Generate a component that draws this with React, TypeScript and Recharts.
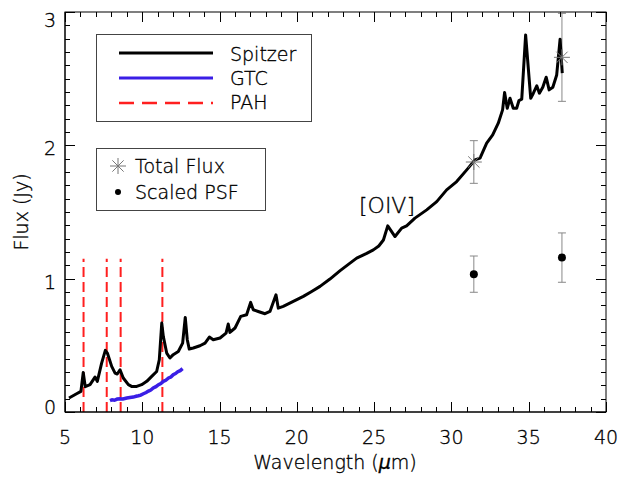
import React from 'react'
import { ComposedChart, Line, Scatter, ErrorBar, XAxis, YAxis, ReferenceLine } from 'recharts'

// Spitzer IRS spectrum (wavelength in micron, flux in Jy)
const spitzerWave = [
  5.26, 5.75, 6.03, 6.18, 6.31, 6.62, 6.94, 7.09, 7.37, 7.61, 7.74, 8.02, 8.24, 8.38, 8.56, 8.77,
  9.1, 9.31, 9.64, 9.96, 10.29, 10.61, 10.93, 11.1, 11.26, 11.36, 11.58, 11.79, 12.0, 12.33, 12.61,
  12.78, 12.91, 13.04, 13.3, 13.73, 14.06, 14.34, 14.59, 15.03, 15.42, 15.56, 15.67, 16.0, 16.37,
  16.75, 17.01, 17.18, 17.5, 17.94, 18.26, 18.65, 18.8, 19.12, 19.77, 20.42, 20.96, 21.5, 22.14,
  22.8, 23.44, 23.87, 24.52, 24.95, 25.3, 25.6, 25.88, 26.35, 26.78, 27.1, 27.64, 28.4, 29.05,
  29.69, 30.34, 30.99, 31.52, 31.85, 32.28, 32.67, 33.03, 33.31, 33.44, 33.61, 33.79, 34.0, 34.22,
  34.37, 34.55, 34.8, 35.13, 35.3, 35.52, 35.69, 35.91, 36.13, 36.32, 36.56, 36.81, 37.03, 37.17,
]
const spitzerFlux = [
  0.105, 0.137, 0.155, 0.297, 0.19, 0.205, 0.262, 0.23, 0.367, 0.462, 0.442, 0.342, 0.292, 0.285,
  0.317, 0.255, 0.205, 0.192, 0.192, 0.205, 0.23, 0.267, 0.304, 0.392, 0.667, 0.567, 0.442, 0.405,
  0.43, 0.454, 0.517, 0.709, 0.542, 0.472, 0.48, 0.497, 0.517, 0.562, 0.542, 0.555, 0.592, 0.66,
  0.597, 0.63, 0.717, 0.729, 0.822, 0.767, 0.754, 0.737, 0.754, 0.879, 0.779, 0.792, 0.829, 0.867,
  0.904, 0.942, 0.997, 1.06, 1.117, 1.154, 1.19, 1.216, 1.245, 1.29, 1.396, 1.316, 1.379, 1.396,
  1.454, 1.516, 1.578, 1.666, 1.728, 1.816, 1.891, 1.904, 2.016, 2.078, 2.166, 2.266, 2.396, 2.278,
  2.353, 2.278, 2.278, 2.336, 2.346, 2.828, 2.353, 2.391, 2.446, 2.391, 2.436, 2.511, 2.416, 2.436,
  2.528, 2.796, 2.541,
]

// GTC spectrum
const gtcWave = [
  7.91, 8.05, 8.2, 8.38, 8.56, 8.75, 9.0, 9.2, 9.42, 9.6, 9.75, 9.9, 10.07, 10.25, 10.4, 10.55,
  10.71, 10.88, 11.05, 11.2, 11.36, 11.52, 11.7, 11.85, 12.0, 12.15, 12.3, 12.45, 12.61,
]
const gtcFlux = [
  0.085, 0.092, 0.088, 0.097, 0.1, 0.098, 0.105, 0.109, 0.112, 0.118, 0.122, 0.127, 0.137, 0.146,
  0.157, 0.165, 0.18, 0.19, 0.205, 0.214, 0.23, 0.238, 0.255, 0.262, 0.28, 0.288, 0.302, 0.31, 0.325,
]

// PAH features
const pahWave = [6.2, 7.7, 8.6, 11.3]
const pahTop = 1.15

// photometry
const photWave = [31.45, 37.15]
const totalFlux = [1.875, 2.66]
const totalErr = [0.16, 0.33]
const psfFlux = [1.034, 1.158]
const psfErr = [0.136, 0.185]

const xDomain = [5, 40]
const yDomain = [0, 3]
const xMajor = [5, 10, 15, 20, 25, 30, 35, 40]
const yMajor = [0, 1, 2, 3]
const xMinor = Array.from({ length: 36 }, (_, i) => 5 + i)
const yMinor = Array.from({ length: 31 }, (_, i) => i / 10)

const spitzer = spitzerWave.map((x, i) => ({ x, y: spitzerFlux[i] }))
const gtc = gtcWave.map((x, i) => ({ x, y: gtcFlux[i] }))
const total = photWave.map((x, i) => ({ x, y: totalFlux[i], err: totalErr[i] }))
const psf = photWave.map((x, i) => ({ x, y: psfFlux[i], err: psfErr[i] }))

const FONT = '"DejaVu Sans", sans-serif'
const W = 626
const H = 482
const MARGIN = { top: 12, right: 20, bottom: 40, left: 5 }
const Y_AXIS_W = 60
const X_AXIS_H = 30
const BLUE = '#3a1ee6'
const RED = '#ff1f1f'

// plot box, same numbers the chart uses for its layout
const plotL = MARGIN.left + Y_AXIS_W
const plotR = W - MARGIN.right
const plotT = MARGIN.top
const plotB = H - MARGIN.bottom - X_AXIS_H
const sx = (v: number) => plotL + ((v - xDomain[0]) / (xDomain[1] - xDomain[0])) * (plotR - plotL)
const sy = (v: number) => plotB - ((v - yDomain[0]) / (yDomain[1] - yDomain[0])) * (plotB - plotT)

const isMajor = (v: number, majors: number[]) => majors.some((m) => Math.abs(m - v) < 1e-6)
const px = (v: number) => Math.round(v) + 0.5

// all inward ticks as one path
let tickPath = ''
xMinor.forEach((v) => {
  const len = isMajor(v, xMajor) ? 10 : 5
  const x = px(sx(v))
  tickPath += `M${x} ${plotB}V${plotB - len}M${x} ${plotT}V${plotT + len}`
})
yMinor.forEach((v) => {
  const len = isMajor(v, yMajor) ? 10 : 5
  const y = px(sy(v))
  tickPath += `M${plotL} ${y}H${plotL + len}M${plotR} ${y}H${plotR - len}`
})

const textStyle = { fontFamily: FONT, fontWeight: 200, fontSize: 19, fill: '#000', stroke: '#000', strokeWidth: 0.35 } as const

const BottomLabel = (props: any) => {
  const { x, y, payload } = props
  return (
    <text x={x} y={y + 32} textAnchor="middle" {...textStyle}>
      {payload.value}
    </text>
  )
}

const LeftLabel = (props: any) => {
  const { x, y, payload } = props
  const v = payload.value
  const shift = v === 0 ? -5 : v === 3 ? 8 : 3
  return (
    <text x={x - 9} y={y + shift + 7} textAnchor="end" {...textStyle}>
      {Math.round(v)}
    </text>
  )
}

const Star = (props: any) => {
  const { cx, cy } = props
  const r = 8
  const d = r * 0.707
  return (
    <g stroke="#777" strokeWidth={1}>
      <line x1={cx - r} x2={cx + r} y1={cy} y2={cy} />
      <line x1={cx} x2={cx} y1={cy - r} y2={cy + r} />
      <line x1={cx - d} x2={cx + d} y1={cy - d} y2={cy + d} />
      <line x1={cx - d} x2={cx + d} y1={cy + d} y2={cy - d} />
    </g>
  )
}

const Dot = (props: any) => <circle cx={props.cx} cy={props.cy} r={4} fill="#000" />

export default function App() {
  return (
    <div style={{ position: 'absolute', left: 0, top: 0, width: W, height: H, background: '#fff' }}>
      <ComposedChart width={W} height={H} margin={MARGIN}>
        <XAxis
          dataKey="x"
          type="number"
          domain={xDomain}
          ticks={xMajor}
          interval={0}
          allowDataOverflow
          height={X_AXIS_H}
          tickSize={0}
          tickMargin={0}
          tickLine={false}
          axisLine={{ stroke: '#000' }}
          tick={<BottomLabel />}
        />
        <YAxis
          dataKey="y"
          type="number"
          domain={yDomain}
          ticks={yMajor}
          interval={0}
          allowDataOverflow
          width={Y_AXIS_W}
          tickSize={0}
          tickMargin={0}
          tickLine={false}
          axisLine={{ stroke: '#000' }}
          tick={<LeftLabel />}
        />
        {pahWave.map((w) => (
          <ReferenceLine
            key={w}
            segment={[{ x: w, y: 0 }, { x: w, y: pahTop }]}
            stroke={RED}
            strokeWidth={2}
            strokeDasharray="10 5"
          />
        ))}
        <Scatter data={total} dataKey="y" shape={<Star />} isAnimationActive={false}>
          <ErrorBar dataKey="err" direction="y" width={4} stroke="#888" strokeWidth={1} isAnimationActive={false} />
        </Scatter>
        <Scatter data={psf} dataKey="y" shape={<Dot />} isAnimationActive={false}>
          <ErrorBar dataKey="err" direction="y" width={4} stroke="#888" strokeWidth={1} isAnimationActive={false} />
        </Scatter>
        <Line data={gtc} dataKey="y" type="linear" stroke={BLUE} strokeWidth={3.5} dot={false} isAnimationActive={false} />
        <Line data={spitzer} dataKey="y" type="linear" stroke="#000" strokeWidth={3} strokeLinejoin="round" dot={false} isAnimationActive={false} />
      </ComposedChart>
      <svg width={W} height={H} style={{ position: 'absolute', left: 0, top: 0, pointerEvents: 'none' }}>
        <rect x={plotL} y={plotT} width={plotR - plotL} height={plotB - plotT} fill="none" stroke="#000" strokeWidth={1} />
        <path d={tickPath} fill="none" stroke="#000" strokeWidth={1} />

        <rect x={96.5} y={34.5} width={215} height={87} fill="none" stroke="#444" strokeWidth={1} />
        <line x1={119} x2={213} y1={53} y2={53} stroke="#000" strokeWidth={3} />
        <line x1={119} x2={213} y1={78} y2={78} stroke={BLUE} strokeWidth={3} />
        <line x1={119} x2={213} y1={103} y2={103} stroke={RED} strokeWidth={2.5} strokeDasharray="15 8" />
        <text x={230} y={61} {...textStyle}>Spitzer</text>
        <text x={230} y={85} {...textStyle}>GTC</text>
        <text x={230} y={109} {...textStyle}>PAH</text>

        <rect x={96.5} y={148.5} width={169} height={62} fill="none" stroke="#444" strokeWidth={1} />
        <Star cx={118} cy={166} />
        <circle cx={118} cy={192} r={3} fill="#000" />
        <text x={135} y={173} {...textStyle}>Total Flux</text>
        <text x={135} y={199} {...textStyle}>Scaled PSF</text>

        <text x={387} y={213} textAnchor="middle" {...textStyle} fontSize={22}>
          [OIV]
        </text>
        <text x={335} y={469} textAnchor="middle" {...textStyle}>
          Wavelength (<tspan fontStyle="italic">μ</tspan>m)
        </text>
        <text x={28} y={212} textAnchor="middle" transform="rotate(-90 28 212)" {...textStyle}>
          Flux (Jy)
        </text>
      </svg>
    </div>
  )
}
